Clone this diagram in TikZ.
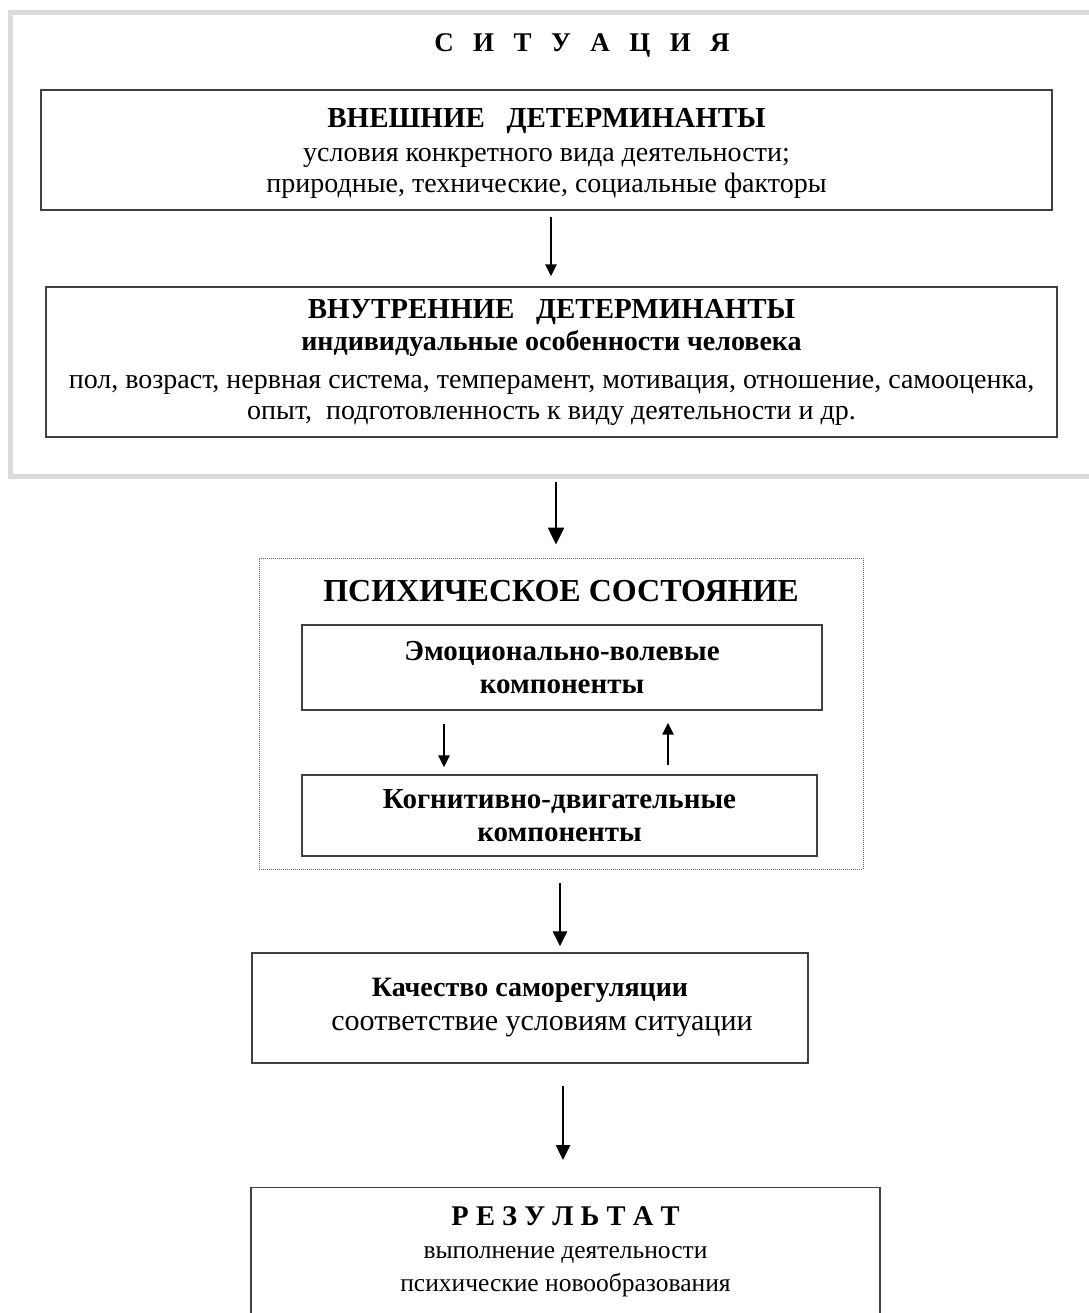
\documentclass[tikz,border=0pt]{standalone}
\usepackage{fontspec}
\setmainfont{Liberation Serif}
\usetikzlibrary{arrows.meta}
\newcommand\lsp{\hspace{.72em}}
\begin{document}
\begin{tikzpicture}[x=1pt, y=-1pt, >={Triangle[length=12pt,width=11pt]},
  box/.style={draw=black!75, line width=1.4pt, align=center, inner sep=0pt,
    font=\fontsize{28}{31}\selectfont},
  arr/.style={->, line width=2.4pt},
  bigarr/.style={-{Triangle[length=17pt,width=16pt]}, line width=2.6pt}]
\useasboundingbox (0,0) rectangle (1088,1313);
% situation frame
\node[draw=black!14, line width=5pt, minimum width=1120pt, minimum height=463.5pt, inner sep=0pt] (sit) at (570,244.25) {};
\node[font=\bfseries\fontsize{27}{30}\selectfont] (sitt) at (582,45) {С\lsp И\lsp Т\lsp У\lsp А\lsp Ц\lsp И\lsp Я};
\node[box, minimum width=1011pt, minimum height=120pt, text depth=0pt] (ext) at (546.5,150)
  {{\bfseries\fontsize{29}{31}\selectfont ВНЕШНИЕ\ \ \ ДЕТЕРМИНАНТЫ}\\[3pt]
   условия конкретного вида деятельности;\\
   природные, технические, социальные факторы};
\node[box, minimum width=1011pt, minimum height=150pt] (int) at (551.5,362)
  {{\bfseries\fontsize{29}{31}\selectfont ВНУТРЕННИЕ\ \ \ ДЕТЕРМИНАНТЫ}\\[1pt]
   {\bfseries индивидуальные особенности человека}\\[7pt]
   пол, возраст, нервная система, темперамент, мотивация, отношение, самооценка,\\
   опыт,\ \ подготовленность к виду деятельности и др.};
% psychic state
\node[draw=black!60, densely dotted, line width=1pt, minimum width=604pt, minimum height=311pt, inner sep=0pt] (psy) at (561,713.5) {};
\node[font=\bfseries\fontsize{32}{36}\selectfont] (psyt) at (561,591) {ПСИХИЧЕСКОЕ СОСТОЯНИЕ};
\node[box, font=\bfseries\fontsize{29}{33}\selectfont, minimum width=520pt, minimum height=85pt, text depth=0pt] (emo) at (562,667.5)
  {Эмоционально-волевые\\компоненты};
\node[box, font=\bfseries\fontsize{29}{33}\selectfont, minimum width=515pt, minimum height=81pt] (cog) at (559.5,815.5)
  {Когнитивно-двигательные\\компоненты};
% quality and result
\node[box, minimum width=556pt, minimum height=110pt] (qual) at (530,1008)
  {{\bfseries\fontsize{28}{31}\selectfont Качество саморегуляции}\\[3pt]
   {\fontsize{30}{31}\selectfont\hspace{24pt}соответствие условиям ситуации}};
\node[box, anchor=north, minimum width=629pt, minimum height=160pt] (res) at (565.5,1187) {};
\node[font=\fontsize{25.5}{33}\selectfont, align=center, anchor=north] (rest) at (res.north) [yshift=-16pt]
  {{\bfseries\fontsize{28.5}{33}\selectfont Р Е З У Л Ь Т А Т}\\
   выполнение деятельности\\ психические новообразования};
% arrows
\draw[arr] ([xshift=4.5pt,yshift=-6pt]ext.south) -- ([xshift=4.5pt,yshift=10pt]ext.south |- int.north);
\draw[bigarr] ([xshift=-14pt,yshift=-3pt]sit.south) -- ([xshift=-14pt,yshift=13pt]sit.south |- psy.north);
\draw[arr] ([xshift=-118pt,yshift=-13pt]emo.south) -- ([xshift=-118pt,yshift=7pt]emo.south |- cog.north);
\draw[arr] ([xshift=108.5pt,yshift=9pt]cog.north) -- ([xshift=108.5pt,yshift=-12pt]cog.north |- emo.south);
\draw[-{Triangle[length=15pt,width=14pt]}, line width=2.5pt] ([xshift=-1pt,yshift=-13pt]psy.south) -- ([xshift=-1pt,yshift=6pt]psy.south |- qual.north);
\draw[-{Triangle[length=15pt,width=14pt]}, line width=2.5pt] ([xshift=33pt,yshift=-22pt]qual.south) -- ([xshift=33pt,yshift=27pt]qual.south |- res.north);
\end{tikzpicture}
\end{document}
